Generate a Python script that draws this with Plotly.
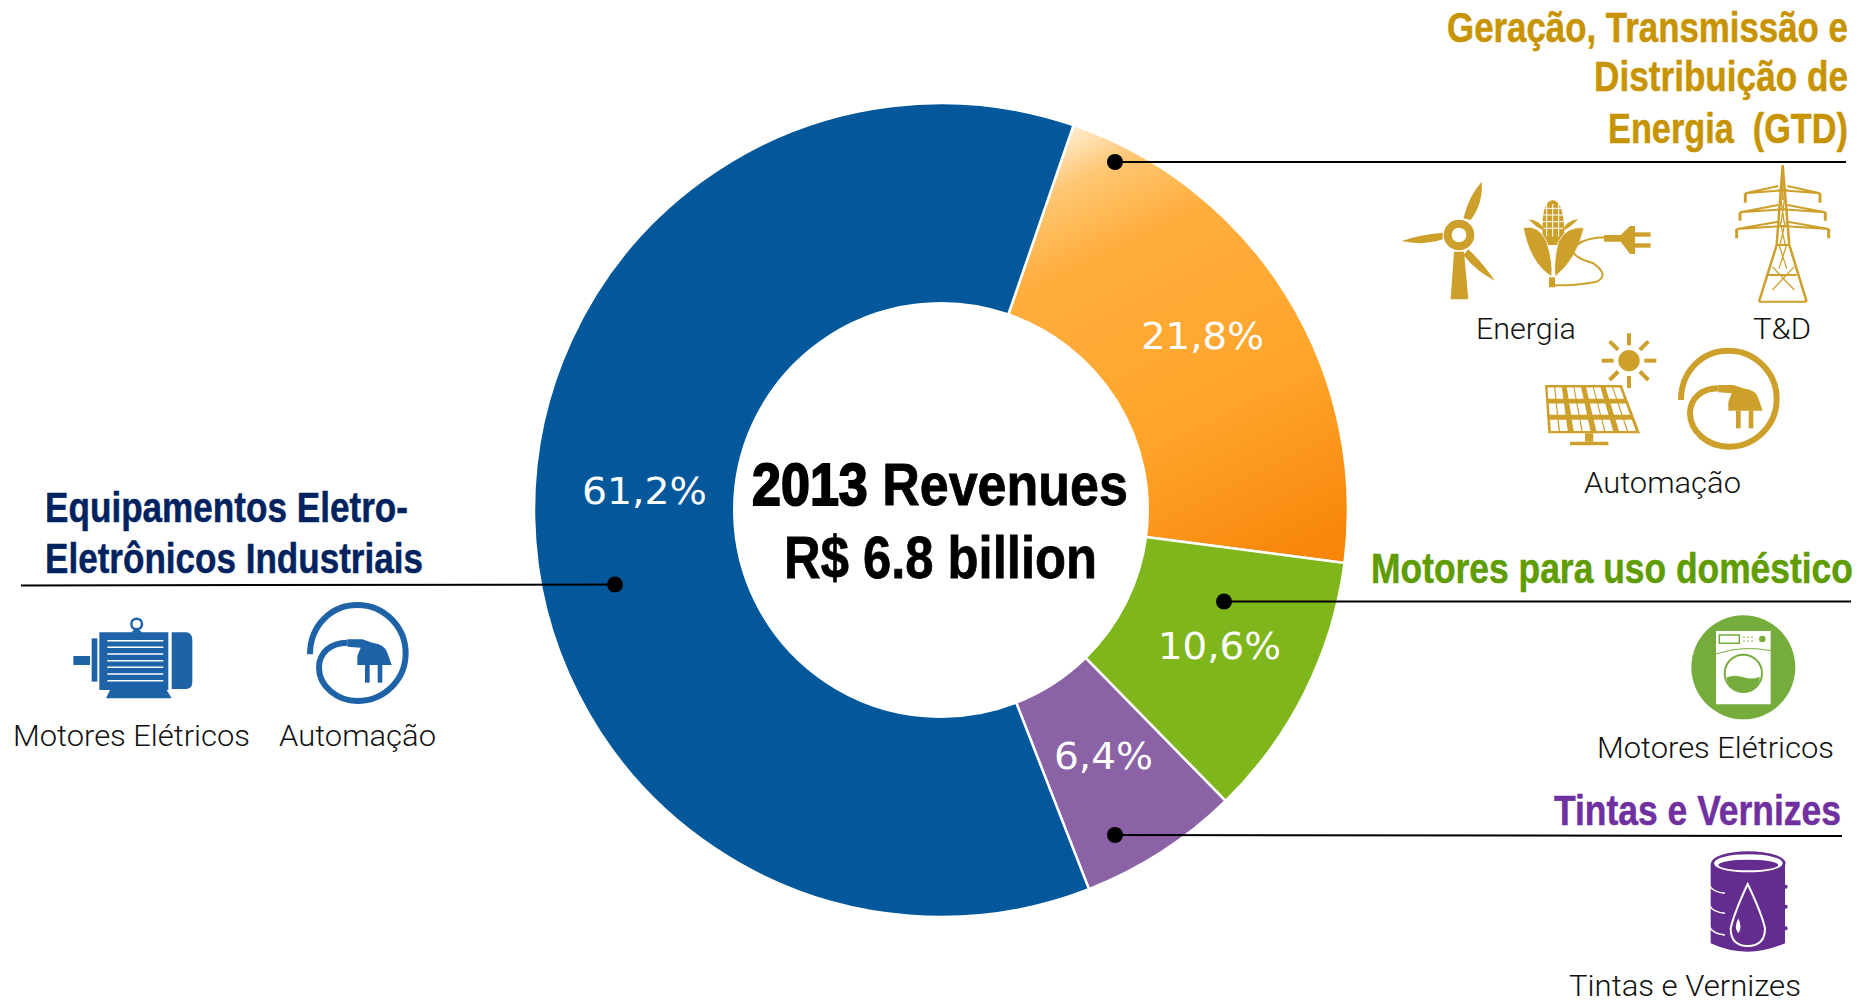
import re
import json
import numpy as np
import plotly.graph_objects as go

W, H = 1870, 1000
SEGMENTS = ["Geração, Transmissão e Distribuição de Energia (GTD)", "Motores para uso doméstico",
            "Tintas e Vernizes", "Equipamentos Eletro-Eletrônicos Industriais"]
SHARES = [21.8, 10.6, 6.4, 61.2]
COLORS = ["#FFA52E", "#7FB61C", "#8A62A5", "#03589B"]
CENTER_LINES = ["2013 Revenues", "R$ 6.8 billion"]
SHARE_POS = [(1202, 336), (1219, 646), (1103, 756), (644, 491)]
SHARE_W = [123, 123, 99, 125]

GOLD, GOLD_TXT = "#CDA02C", "#C79400"
BLUE, NAVY = "#1E62A8", "#00235F"
LEAF, LEAF_TXT = "#76AC3B", "#5E9C00"
PURP, PURP_TXT = "#632C8E", "#7030A0"
HEAD_FONT = "Liberation Sans, sans-serif"
LABEL = "Roboto, Liberation Sans, sans-serif"

# text, edge x, baseline y, anchor, colour, width of the text
HEADERS = [
    ("Geração, Transmissão e", 1848, 42, "right", GOLD_TXT, 401),
    ("Distribuição de", 1848, 92, "right", GOLD_TXT, 254),
    ("Energia  (GTD)", 1848, 143, "right", GOLD_TXT, 240),
    ("Equipamentos Eletro-", 45, 522, "left", NAVY, 363),
    ("Eletrônicos Industriais", 45, 573, "left", NAVY, 378),
    ("Motores para uso doméstico", 1853, 583, "right", LEAF_TXT, 482),
    ("Tintas e Vernizes", 1841, 825, "right", PURP_TXT, 287),
]
LABELS = [
    ("Motores Elétricos", 131, 735, 237), ("Automação", 357, 735, 157), ("Energia", 1526, 328, 100),
    ("T&D", 1782, 328, 58), ("Automação", 1662, 482, 157), ("Motores Elétricos", 1715, 747, 237),
    ("Tintas e Vernizes", 1685, 985, 232),
]
LEADERS = [(1115, 162, 1846, 162), (615, 584.5, 21, 585.5), (1224, 601.5, 1851, 601.5), (1115, 835, 1842, 836)]

shapes = []


def xf(px):
    return px / W


def yf(py):
    return 1 - py / H


def path_str(d, ox, oy, s):
    toks = re.findall(r"[MLQCZ]|-?\d+\.?\d*", d)
    out, is_x = [], True
    for t in toks:
        if t in "MLQCZ":
            out.append(t)
            is_x = True
        else:
            v = float(t)
            out.append(f"{xf(ox + v * s):.5f}" if is_x else f"{yf(oy + v * s):.5f}")
            is_x = not is_x
    return " ".join(out)


def P(d, fill=None, line=None, w=0, ox=0, oy=0, s=1 / 3):
    shapes.append(dict(type="path", xref="paper", yref="paper", path=path_str(d, ox, oy, s),
                       fillcolor=fill or "rgba(0,0,0,0)", layer="above",
                       line=dict(color=line or "rgba(0,0,0,0)", width=w)))


def E(cx, cy, rx, ry=None, fill=None, line=None, w=0, ox=0, oy=0, s=1 / 3):
    ry = rx if ry is None else ry
    shapes.append(dict(type="circle", xref="paper", yref="paper", layer="above",
                       x0=xf(ox + (cx - rx) * s), x1=xf(ox + (cx + rx) * s),
                       y0=yf(oy + (cy - ry) * s), y1=yf(oy + (cy + ry) * s),
                       fillcolor=fill or "rgba(0,0,0,0)", line=dict(color=line or "rgba(0,0,0,0)", width=w)))


def R(x0, y0, x1, y1, fill, **k):
    P(f"M{x0},{y0} L{x1},{y0} L{x1},{y1} L{x0},{y1} Z", fill=fill, **k)


def plug_ring(col, dx, dy, ox, oy):
    def t(d):
        is_x = [True]

        def rep(m):
            v = float(m.group())
            r = v + (dx if is_x[0] else dy)
            is_x[0] = not is_x[0]
            return f"{r:.1f}"
        return re.sub(r"\d+\.?\d*", rep, d)
    P(t("M903,1200 C903,1115 965,1052 1045,1052 C1125,1052 1190,1117 1190,1197 C1190,1277 1125,1340 1045,1340 "
        "C985,1340 930,1295 930,1240 C930,1195 965,1165 1015,1165"), line=col, w=6, ox=ox, oy=oy)
    P(t("M1015,1155 L1060,1155 L1090,1165 Q1128,1170 1135,1195 L1148,1232 L1045,1232 L1045,1205 L1055,1180 L1015,1177 Z"),
      fill=col, ox=ox, oy=oy)
    R(1068 + dx, 1232 + dy, 1082 + dx, 1285 + dy, col, ox=ox, oy=oy)
    R(1106 + dx, 1232 + dy, 1120 + dx, 1285 + dy, col, ox=ox, oy=oy)


# ---- gold icons
o = dict(ox=1380, oy=0)
P("M222,755 L252,755 L265,898 L212,898 Z", fill=GOLD, **o)
E(237, 705, 34, line=GOLD, w=8, **o)
P("M250,655 Q268,585 305,545 Q310,610 272,660 Z", fill=GOLD, **o)
P("M188,698 Q120,703 65,723 Q130,738 188,718 Z", fill=GOLD, **o)
P("M265,748 Q305,785 345,842 Q290,815 250,765 Z", fill=GOLD, **o)
P("M490,735 Q478,605 518,600 Q558,605 552,735 Z", fill=GOLD, **o)
for gx in (500, 518, 536):
    P(f"M{gx},612 L{gx},710", line="white", w=1, **o)
for gy in (625, 645, 665, 685):
    P(f"M488,{gy} L550,{gy}", line="white", w=1, **o)
P("M430,683 Q475,672 500,725 Q520,785 515,830 Q450,790 430,683 Z", fill=GOLD, line="white", w=0.8, **o)
P("M612,683 Q560,678 535,725 Q520,785 525,830 Q590,780 612,683 Z", fill=GOLD, line="white", w=0.8, **o)
P("M445,658 Q480,660 497,695 L470,680 Z", fill=GOLD, **o)
P("M595,658 Q560,660 545,695 L570,680 Z", fill=GOLD, **o)
R(507, 832, 525, 862, GOLD, **o)
P("M525,856 Q600,856 650,845 Q690,825 640,790 Q555,765 590,735 Q620,712 680,712", line=GOLD, w=2, **o)
P("M672,705 L722,705 L750,678 L765,678 L765,762 L750,762 L722,725 L672,725 Z", fill=GOLD, **o)
R(765, 697, 812, 710, GOLD, **o)
R(765, 730, 812, 743, GOLD, **o)
# pylon
P("M1208,495 L1190,735 L1137,905 M1208,495 L1228,735 L1280,905", line=GOLD, w=2.5, **o)
for yy in (530, 600, 665, 735, 800):
    P(f"M{1208 - (yy - 495) * 0.045 - max(0, yy - 735) * 0.27:.0f},{yy} L{1208 + (yy - 495) * 0.05 + max(0, yy - 735) * 0.3:.0f},{yy + 70} "
      f"M{1208 + (yy - 495) * 0.05 + max(0, yy - 735) * 0.3:.0f},{yy} L{1208 - (yy - 495) * 0.045 - max(0, yy - 735) * 0.27:.0f},{yy + 70}",
      line=GOLD, w=1.3, **o)
for yy, hw, drop in ((558, 112, 608), (615, 128, 662), (665, 138, 715)):
    P(f"M1195,{yy} L{1208 - hw},{yy + 22} L1222,{yy + 12} M1222,{yy} L{1208 + hw},{yy + 22} L1195,{yy + 12}", line=GOLD, w=2, **o)
    P(f"M{1208 - hw},{yy + 22} L{1208 - hw},{drop} M{1208 + hw},{yy + 22} L{1208 + hw},{drop}", line=GOLD, w=3, **o)
P("M1190,735 L1228,735 M1165,825 L1250,825 M1137,905 L1280,905", line=GOLD, w=2, **o)
# solar panel and sun
E(747, 1082, 32, fill=GOLD, **o)
for a in np.arange(0, 360, 45):
    c, sn = np.cos(np.radians(a)), np.sin(np.radians(a))
    P(f"M{747 + 46 * c:.1f},{1082 + 46 * sn:.1f} L{747 + 82 * c:.1f},{1082 + 82 * sn:.1f}", line=GOLD, w=4, **o)
P("M495,1155 L725,1155 L780,1300 L505,1300 Z", fill=GOLD, **o)


def panel_pt(u, v):
    xl, xr = 495 + 10 * v, 725 + 55 * v
    return xl + (xr - xl) * u, 1155 + 145 * v


for r_i in range(3):
    for c_i in range(4):
        for half in range(2):
            u0 = (c_i + 0.12 + half * 0.40) / 4
            u1 = u0 + 0.34 / 4
            v0, v1 = (r_i + 0.15) / 3, (r_i + 0.85) / 3
            pts = [panel_pt(u0, v0), panel_pt(u1, v0), panel_pt(u1, v1), panel_pt(u0, v1)]
            P("M" + " L".join(f"{a:.1f},{b:.1f}" for a, b in pts) + " Z", fill="white", **o)
R(615, 1300, 640, 1325, GOLD, **o)
P("M570,1325 L685,1325 L685,1336 L570,1336 Z", fill=GOLD, **o)
plug_ring(GOLD, 0, 0, 1380, 0)

# ---- blue icons
o = dict(ox=0, oy=470)
plug_ring(BLUE, 27, -647, 0, 470)
R(298, 487, 505, 660, BLUE, **o)
P("M515,487 L560,487 Q577,490 577,510 L577,635 Q577,655 560,657 L515,657 Z", fill=BLUE, **o)
R(275, 505, 292, 635, BLUE, **o)
R(220, 558, 270, 585, BLUE, **o)
for yy in range(512, 640, 20):
    P(f"M322,{yy} L490,{yy}", line="white", w=1.5, **o)
P("M330,660 L500,660 L515,685 L318,685 Z", fill=BLUE, **o)
E(410, 462, 16, line=BLUE, w=2.5, **o)
P("M392,488 L428,488 L410,474 Z", fill=BLUE, **o)

# ---- washer
o = dict(ox=1380, oy=530)
E(1090, 412, 156, fill=LEAF, **o)
R(1008, 303, 1172, 523, "white", **o)
P("M1018,315 L1078,315 L1078,340 L1018,340 Z", line=LEAF, w=1.5, **o)
for dx_ in (1092, 1104, 1116):
    for dy_ in (322, 333):
        E(dx_, dy_, 2.5, fill=LEAF, **o)
E(1147, 327, 10, fill=LEAF, **o)
P("M1008,372 Q1090,345 1172,362", line=LEAF, w=1, **o)
E(1090, 430, 56, line=LEAF, w=2, **o)
P("M1040,442 Q1065,432 1090,442 Q1115,450 1140,440 C1135,500 1045,500 1040,442 Z", fill=LEAF, **o)

# ---- barrel
P("M992,1000 L992,1240 Q1100,1290 1215,1240 L1215,1000 Z", fill=PURP, **o)
E(1105, 1000, 112, 36, fill=PURP, **o)
E(1105, 1000, 100, 24, line="white", w=2, fill="white", **o)
E(1105, 1005, 90, 16, fill=PURP, **o)
for yy in (1065, 1125, 1190):
    P(f"M988,{yy} Q998,{yy + 22} 1035,{yy + 25}", line="white", w=1.5, **o)
    E(1217, yy + 5, 6, fill=PURP, **o)
P("M1103,1062 Q1062,1150 1052,1195 Q1052,1248 1103,1248 Q1155,1248 1155,1195 Q1145,1150 1103,1062 Z", line="white", w=2, **o)
P("M1075,1165 Q1060,1195 1075,1210 Q1088,1195 1075,1165 Z", fill="white", **o)

# ---- leader lines
for x0, y0, x1, y1 in LEADERS:
    shapes.append(dict(type="line", xref="paper", yref="paper", layer="above", x0=xf(x0), y0=yf(y0), x1=xf(x1), y1=yf(y1),
                       line=dict(color="black", width=2)))
    E(x0, y0, 8, fill="black", ox=0, oy=0, s=1)

ann = []
fit_widths = []
strokes = []


def T(text, x, y, size, font, color, width, weight=400, stroke=0):
    ann.append(dict(text=text, x=xf(x), y=yf(y), xref="paper", yref="paper",
                    xanchor="center", yanchor="middle", showarrow=False, width=width + 6, align="center",
                    font=dict(size=size, family=font, color=color, weight=weight)))
    fit_widths.append(width)
    strokes.append(stroke)


for text, x, base, anchor, col, tw in HEADERS:
    cx = x - tw / 2 if anchor == "right" else x + tw / 2
    T(text, cx, base - 15, 42, HEAD_FONT, col, tw, 700, 0.5)
for text, x, y, tw in LABELS:
    T(text, x, y, 30, LABEL, "#111111", tw, 300)
for v, (x, y), tw in zip(SHARES, SHARE_POS, SHARE_W):
    T(f"{v:.1f}%".replace(".", ","), x, y, 38, "DejaVu Sans", "white", tw)
T(CENTER_LINES[0], 940, 484, 60, HEAD_FONT, "black", 376, 700, 0.8)
T(CENTER_LINES[1], 940, 557, 60, HEAD_FONT, "black", 313, 700, 0.8)

fig = go.Figure(go.Pie(
    labels=SEGMENTS, values=SHARES, sort=False, direction="clockwise", rotation=19, hole=0.508,
    textinfo="none", hoverinfo="skip", showlegend=False,
    marker=dict(colors=COLORS, line=dict(color="white", width=2.5)),
    domain=dict(x=[(941 - 407) / W, (941 + 407) / W], y=[1 - (510 + 407) / H, 1 - (510 - 407) / H]),
))
fig.update_layout(width=W, height=H, margin=dict(l=0, r=0, t=0, b=0), paper_bgcolor="white",
                  plot_bgcolor="white", shapes=shapes, annotations=ann)

post = """
document.body.style.margin='0';
document.body.style.overflow='hidden';
var gd=document.getElementById('{plot_id}');
var svg=gd.querySelector('svg.main-svg');
var ns='http://www.w3.org/2000/svg';
var defs=svg.querySelector('defs');
var g=document.createElementNS(ns,'linearGradient');
g.setAttribute('id','orangeGrad');
g.setAttribute('gradientUnits','userSpaceOnUse');
g.setAttribute('x1','1085');g.setAttribute('y1','125');
g.setAttribute('x2','1300');g.setAttribute('y2','560');
[[0,'#FFEAC8'],[0.1,'#FFC672'],[0.25,'#FFAE3E'],[0.65,'#FFA42A'],[1,'#F7860A']].forEach(function(s){
  var st=document.createElementNS(ns,'stop');
  st.setAttribute('offset',s[0]);st.setAttribute('stop-color',s[1]);g.appendChild(st);
});
defs.appendChild(g);
var p=gd.querySelector('.slice path.surface');
if(p){p.style.fill='url(#orangeGrad)';}
var widths=__WIDTHS__, strokes=__STROKES__;
gd.querySelectorAll('.annotation-text').forEach(function(t,i){
  t.removeAttribute('clip-path');
  t.style.clipPath='none';
  if(strokes[i]>0){
    t.style.stroke=t.style.fill;
    t.style.strokeWidth=strokes[i]+'px';
  }
  var bb=t.getBBox();
  var cx=bb.x+bb.width/2;
  var sx=widths[i]/t.getComputedTextLength();
  var old=t.getAttribute('transform')||'';
  t.setAttribute('transform',old+' translate('+cx+' 0) scale('+sx+' 1) translate('+(-cx)+' 0)');
  if(t.textContent==='2013 Revenues'){
    var rest=t.textContent.slice(4);
    t.textContent='';
    var a=document.createElementNS(ns,'tspan');
    a.textContent='2013';
    a.style.strokeWidth='2px';
    t.appendChild(a);
    t.appendChild(document.createTextNode(rest));
  }
});
""".replace("__WIDTHS__", json.dumps(fit_widths)).replace("__STROKES__", json.dumps(strokes))
fig.write_html("out.html", post_script=post, config=dict(displayModeBar=False))
